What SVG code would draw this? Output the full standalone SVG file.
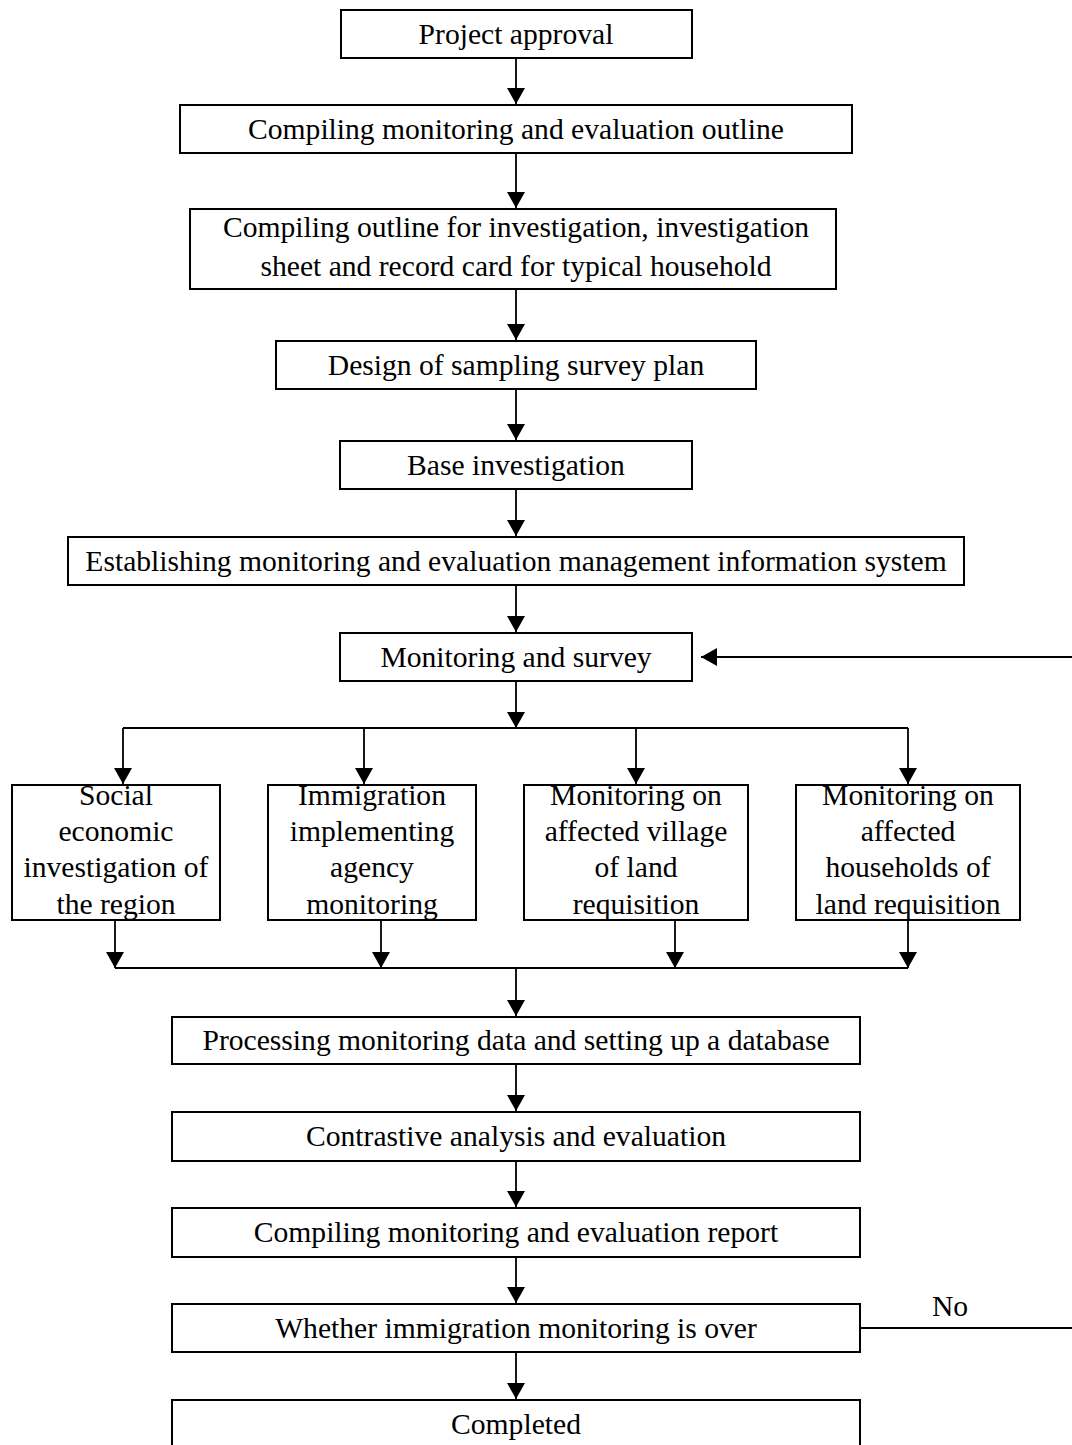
<svg xmlns="http://www.w3.org/2000/svg" width="1072" height="1445" viewBox="0 0 1072 1445">
<style>
.box{fill:#fff;stroke:#000;stroke-width:2}
.t{font-family:"Liberation Serif","Times New Roman",serif;font-size:29.6px;fill:#000;text-anchor:middle}
.c{fill:none;stroke:#000;stroke-width:1.8}
</style>
<defs>
<marker id="ah" markerUnits="userSpaceOnUse" markerWidth="17" markerHeight="18" refX="16" refY="9" orient="auto">
<path d="M0,0 L16,9 L0,18 Z" fill="#000"/>
</marker>
</defs>
<rect width="1072" height="1445" fill="#fff"/>
<g id="connectors">
<line class="c" x1="516" y1="58" x2="516" y2="104" marker-end="url(#ah)"/>
<line class="c" x1="516" y1="153" x2="516" y2="208" marker-end="url(#ah)"/>
<line class="c" x1="516" y1="289" x2="516" y2="340" marker-end="url(#ah)"/>
<line class="c" x1="516" y1="389" x2="516" y2="440" marker-end="url(#ah)"/>
<line class="c" x1="516" y1="489" x2="516" y2="536" marker-end="url(#ah)"/>
<line class="c" x1="516" y1="585" x2="516" y2="632" marker-end="url(#ah)"/>
<line class="c" x1="516" y1="681" x2="516" y2="728" marker-end="url(#ah)"/>
<line class="c" x1="123" y1="728" x2="908" y2="728"/>
<line class="c" x1="123" y1="728" x2="123" y2="784" marker-end="url(#ah)"/>
<line class="c" x1="364" y1="728" x2="364" y2="784" marker-end="url(#ah)"/>
<line class="c" x1="636" y1="728" x2="636" y2="784" marker-end="url(#ah)"/>
<line class="c" x1="908" y1="728" x2="908" y2="784" marker-end="url(#ah)"/>
<line class="c" x1="115" y1="920" x2="115" y2="968" marker-end="url(#ah)"/>
<line class="c" x1="381" y1="920" x2="381" y2="968" marker-end="url(#ah)"/>
<line class="c" x1="675" y1="920" x2="675" y2="968" marker-end="url(#ah)"/>
<line class="c" x1="908" y1="920" x2="908" y2="968" marker-end="url(#ah)"/>
<line class="c" x1="115" y1="968" x2="908" y2="968"/>
<line class="c" x1="516" y1="968" x2="516" y2="1016" marker-end="url(#ah)"/>
<line class="c" x1="516" y1="1064" x2="516" y2="1111" marker-end="url(#ah)"/>
<line class="c" x1="516" y1="1161" x2="516" y2="1207" marker-end="url(#ah)"/>
<line class="c" x1="516" y1="1257" x2="516" y2="1303" marker-end="url(#ah)"/>
<line class="c" x1="516" y1="1352" x2="516" y2="1399" marker-end="url(#ah)"/>
<line class="c" x1="860" y1="1328" x2="1072" y2="1328"/>
<line class="c" x1="1072" y1="657" x2="701" y2="657" marker-end="url(#ah)"/>
<text class="t" x="950" y="1316">No</text>
</g>
<g id="n1"><rect class="box" x="341" y="10" width="351" height="48"/><text class="t" x="516" y="44">Project approval</text></g>
<g id="n2"><rect class="box" x="180" y="105" width="672" height="48"/><text class="t" x="516" y="139">Compiling monitoring and evaluation outline</text></g>
<g id="n3"><rect class="box" x="190" y="209" width="646" height="80"/><text class="t" x="516" y="237">Compiling outline for investigation, investigation</text><text class="t" x="516" y="276">sheet and record card for typical household</text></g>
<g id="n4"><rect class="box" x="276" y="341" width="480" height="48"/><text class="t" x="516" y="375">Design of sampling survey plan</text></g>
<g id="n5"><rect class="box" x="340" y="441" width="352" height="48"/><text class="t" x="516" y="475">Base investigation</text></g>
<g id="n6"><rect class="box" x="68" y="537" width="896" height="48"/><text class="t" x="516" y="571">Establishing monitoring and evaluation management information system</text></g>
<g id="n7"><rect class="box" x="340" y="633" width="352" height="48"/><text class="t" x="516" y="667">Monitoring and survey</text></g>
<g id="n8"><rect class="box" x="12" y="785" width="208" height="135"/><text class="t" x="116" y="805">Social</text><text class="t" x="116" y="841">economic</text><text class="t" x="116" y="877">investigation of</text><text class="t" x="116" y="914">the region</text></g>
<g id="n9"><rect class="box" x="268" y="785" width="208" height="135"/><text class="t" x="372" y="805">Immigration</text><text class="t" x="372" y="841">implementing</text><text class="t" x="372" y="877">agency</text><text class="t" x="372" y="914">monitoring</text></g>
<g id="n10"><rect class="box" x="524" y="785" width="224" height="135"/><text class="t" x="636" y="805">Monitoring on</text><text class="t" x="636" y="841">affected village</text><text class="t" x="636" y="877">of land</text><text class="t" x="636" y="914">requisition</text></g>
<g id="n11"><rect class="box" x="796" y="785" width="224" height="135"/><text class="t" x="908" y="805">Monitoring on</text><text class="t" x="908" y="841">affected</text><text class="t" x="908" y="877">households of</text><text class="t" x="908" y="914">land requisition</text></g>
<g id="n12"><rect class="box" x="172" y="1017" width="688" height="47"/><text class="t" x="516" y="1050">Processing monitoring data and setting up a database</text></g>
<g id="n13"><rect class="box" x="172" y="1112" width="688" height="49"/><text class="t" x="516" y="1146">Contrastive analysis and evaluation</text></g>
<g id="n14"><rect class="box" x="172" y="1208" width="688" height="49"/><text class="t" x="516" y="1242">Compiling monitoring and evaluation report</text></g>
<g id="n15"><rect class="box" x="172" y="1304" width="688" height="48"/><text class="t" x="516" y="1338">Whether immigration monitoring is over</text></g>
<g id="n16"><rect class="box" x="172" y="1400" width="688" height="48"/><text class="t" x="516" y="1434">Completed</text></g>
</svg>
